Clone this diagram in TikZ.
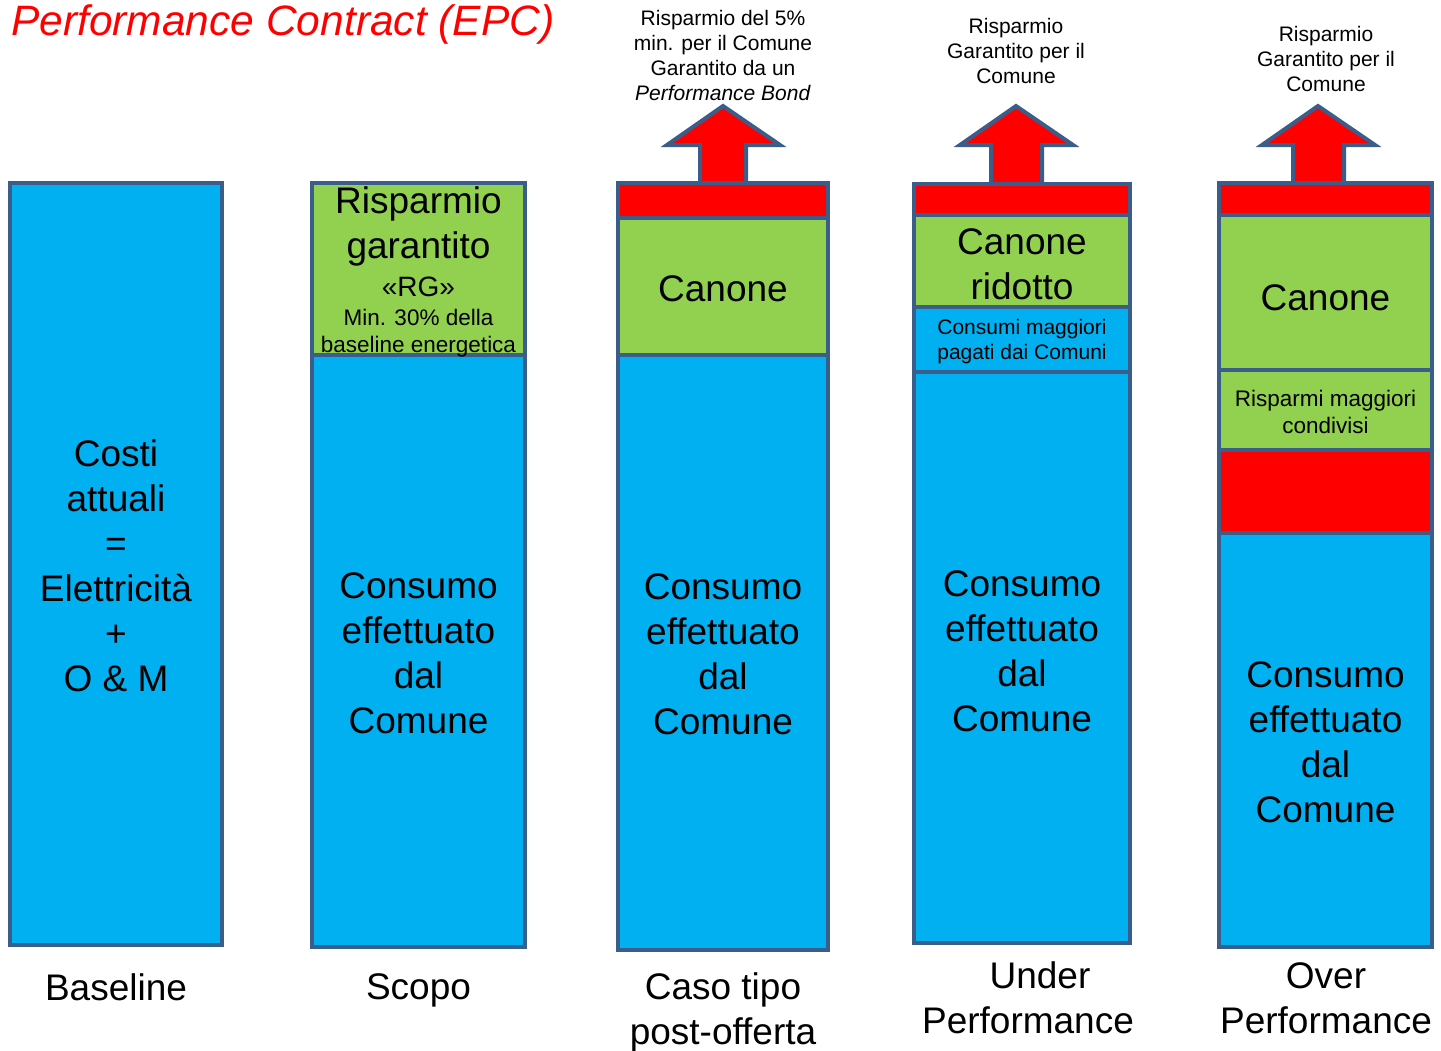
\documentclass[tikz,border=0pt]{standalone}
\usepackage{fontspec}
\setmainfont{Liberation Sans}
\definecolor{edge}{RGB}{59,93,138}
\definecolor{skyb}{RGB}{0,176,240}
\definecolor{leaf}{RGB}{146,208,80}
\definecolor{hot}{RGB}{255,0,0}
\begin{document}
\begin{tikzpicture}[x=1pt,y=-1pt,
  seg/.style={draw=edge,line width=4pt,inner sep=0pt,outer sep=0pt},
  bluebox/.style={seg,fill=skyb},
  greenbox/.style={seg,fill=leaf},
  redbox/.style={seg,fill=hot},
  uparrow/.style={draw=edge,line width=4pt,fill=hot,line join=miter},
  bigtxt/.style={font=\fontsize{37}{45}\selectfont,align=center,inner sep=0pt},
  midtxt/.style={font=\fontsize{22.5}{27}\selectfont,align=center,inner sep=0pt},
  smalltxt/.style={font=\fontsize{21}{25}\selectfont,align=center,inner sep=0pt}]
\useasboundingbox (0,0) rectangle (1441,1050);

% title
\node[anchor=west,inner sep=0pt,text=hot,font=\fontsize{42.5}{50}\selectfont\itshape] (title) at (11,24) {Performance Contract (EPC)};

% arrows
\path[uparrow] (700,185) -- (700,145) -- (667,145) -- (723,106) -- (780,145) -- (746,145) -- (746,185) -- cycle;
\path[uparrow] (991,186) -- (991,145) -- (960,145) -- (1016,106) -- (1073,145) -- (1042,145) -- (1042,186) -- cycle;
\path[uparrow] (1293,185) -- (1293,145) -- (1262,145) -- (1318,106) -- (1375,145) -- (1344,145) -- (1344,185) -- cycle;

% column 1
\node[bluebox,minimum width=212pt,minimum height=762pt] (b1) at (116,564) {};
\node[bigtxt] (t1) at (116,566) {Costi\\attuali\\=\\Elettricità\\+\\O \& M};

% column 2
\node[greenbox,minimum width=213pt,minimum height=172pt] (g2) at (418.5,269) {};
\node[bluebox,minimum width=213pt,minimum height=592pt] (b2) at (418.5,651) {};
\node[bigtxt] (t2a) at (418.5,226) {Risparmio\\garantito};
\node[inner sep=0pt,font=\fontsize{28}{32}\selectfont] (t2b) at (418.5,287) {«RG»};
\node[midtxt] (t2c) at (418.5,333) {Min. 30\% della\\baseline energetica};
\node[bigtxt] (t2d) at (418.5,653) {Consumo\\effettuato\\dal\\Comune};

% column 3
\node[redbox,minimum width=210pt,minimum height=35pt] (r3) at (723,200.5) {};
\node[greenbox,minimum width=210pt,minimum height=137pt] (g3) at (723,286.5) {};
\node[bluebox,minimum width=210pt,minimum height=595pt] (b3) at (723,652.5) {};
\node[bigtxt] (t3a) at (723,289) {Canone};
\node[bigtxt] (t3b) at (723,654) {Consumo\\effettuato\\dal\\Comune};
\node[smalltxt] (t3c) at (723,55) {Risparmio del 5\%\\min. per il Comune\\Garantito da un\\\textit{Performance Bond}};

% column 4
\node[redbox,minimum width=216pt,minimum height=31pt] (r4) at (1022,199.5) {};
\node[greenbox,minimum width=216pt,minimum height=92pt] (g4) at (1022,261) {};
\node[bluebox,minimum width=216pt,minimum height=65pt] (m4) at (1022,339.5) {};
\node[bluebox,minimum width=216pt,minimum height=571pt] (b4) at (1022,657.5) {};
\node[bigtxt] (t4a) at (1022,264) {Canone\\ridotto};
\node[smalltxt] (t4b) at (1022,342) {Consumi maggiori\\pagati dai Comuni};
\node[bigtxt] (t4c) at (1022,651) {Consumo\\effettuato\\dal\\Comune};
\node[smalltxt] (t4d) at (1016,51) {Risparmio\\Garantito per il\\Comune};

% column 5
\node[redbox,minimum width=213pt,minimum height=32pt] (r5) at (1325.5,199) {};
\node[greenbox,minimum width=213pt,minimum height=155pt] (g5) at (1325.5,292.5) {};
\node[greenbox,minimum width=213pt,minimum height=80pt] (h5) at (1325.5,410) {};
\node[redbox,minimum width=213pt,minimum height=83pt] (s5) at (1325.5,491.5) {};
\node[bluebox,minimum width=213pt,minimum height=414pt] (b5) at (1325.5,740) {};
\node[bigtxt] (t5a) at (1325.5,298) {Canone};
\node[midtxt] (t5b) at (1325.5,412) {Risparmi maggiori\\condivisi};
\node[bigtxt] (t5c) at (1325.5,742) {Consumo\\effettuato\\dal\\Comune};
\node[smalltxt] (t5d) at (1326,59) {Risparmio\\Garantito per il\\Comune};

% bottom labels
\node[bigtxt] (l1) at (116,987) {Baseline};
\node[bigtxt] (l2) at (418.5,990) {Scopo};
\node[bigtxt] (l3) at (723,1012) {Caso tipo\\post-offerta};
\node[bigtxt] (l4) at (1028,998) {\hspace*{24pt}Under\\Performance};
\node[bigtxt] (l5) at (1326,998) {Over\\Performance};
\end{tikzpicture}
\end{document}
